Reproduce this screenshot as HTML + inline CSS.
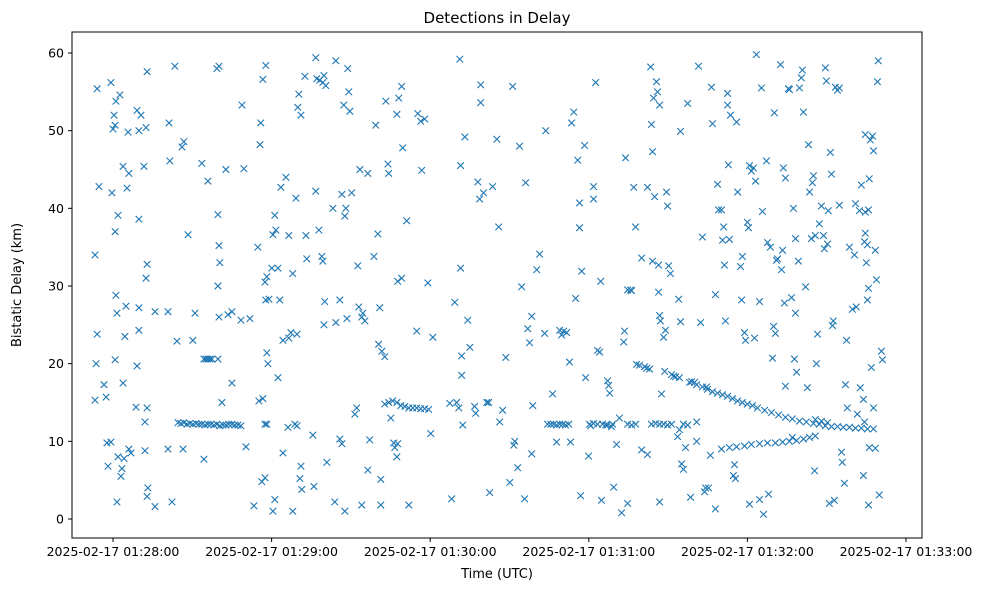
<!DOCTYPE html>
<html><head><meta charset="utf-8"><style>
html,body{margin:0;padding:0;background:#fff;}
svg text{font-family:"DejaVu Sans","Liberation Sans",sans-serif;fill:#000;}
</style></head><body>
<svg id="chart" width="988" height="590" xmlns="http://www.w3.org/2000/svg">
<rect x="0" y="0" width="988" height="590" fill="#fff"/>
<text x="497" y="23" font-size="15" text-anchor="middle">Detections in Delay</text>
<text x="497" y="578" font-size="13" text-anchor="middle">Time (UTC)</text>
<text x="21" y="285" font-size="13" text-anchor="middle" transform="rotate(-90 21 285)">Bistatic Delay (km)</text>
<g id="marks"></g>
<g id="axes"></g>
<rect x="72" y="32" width="850" height="506" fill="none" stroke="#000" stroke-width="1"/>
</svg>
<script>
// time in seconds relative to 01:28:00 UTC
const times = [-6.8,-6.0,-5.3,-6.4,-6.0,-6.8,-3.4,-2.6,-2.3,-1.9,-0.8,-0.8,0,0.4,0.8,1.1,2.6,-0.4,0.8,1.9,1.1,1.5,0.8,1.9,3.0,3.4,4.2,1.5,3.8,5.3,5.7,6.0,4.9,4.5,3.8,6.8,9.1,9.8,10.6,12.5,12.9,11.7,9.8,9.1,8.7,9.8,12.9,12.5,12.9,12.1,12.1,13.2,12.9,15.9,15.9,20.8,9.8,6.0,22.3,20.8,21.2,21.5,23.4,26.1,26.8,28.4,30.2,31.0,26.5,24.2,
24.6,25.7,26.8,28.0,29.1,30.2,31.4,32.5,33.6,34.8,35.9,37.0,38.2,39.3,40.4,41.6,42.7,43.8,45.0,46.1,47.3,48.4,
33.6,35.9,34.4,35.2,35.9,36.7,37.4,39.7,34.4,39.3,40.1,39.7,40.1,40.4,39.7,40.1,41.2,42.7,43.5,45.0,45.0,48.4,48.8,49.5,50.3,51.8,53.3,54.8,55.9,55.6,56.7,57.8,55.2,56.7,57.5,58.2,58.6,58.2,57.8,57.5,58.2,59.0,60.1,60.5,61.2,61.6,62.4,63.1,63.5,65.4,64.3,66.5,66.5,61.2,60.5,56.3,57.5,62.4,64.3,66.2,67.3,69.6,68.0,69.2,69.9,70.3,71.1,72.6,73.0,73.3,68.8,69.6,71.1,70.7,71.4,68.0,75.6,76.0,76.7,76.7,77.1,77.9,78.2,79.4,79.8,80.5,79.0,79.4,79.8,80.1,80.9,83.2,84.3,84.3,85.8,85.8,86.6,87.3,86.6,87.7,88.1,88.5,88.8,89.2,89.6,90.3,91.5,92.2,92.6,93.0,93.4,94.5,94.1,95.3,94.1,83.9,87.7,96.4,96.4,97.1,98.7,99.4,100.2,100.5,100.9,101.3,101.7,101.3,102.8,103.2,104.3,104.0,105.1,106.2,106.6,107.4,107.7,107.4,108.1,107.7,109.2,109.2,109.6,111.1,111.9,114.9,115.3,116.4,116.8,117.9,119.1,120.2,121.0,
102.8,104.3,105.8,107.4,108.9,110.4,111.9,113.4,114.9,116.4,117.9,119.4,127.4,130.8,141.4,
128.1,129.3,130.0,131.2,131.5,131.5,131.9,131.9,133.1,132.3,134.2,135.0,136.8,137.2,138.0,138.7,139.1,139.1,140.2,142.1,142.5,143.6,145.2,145.9,146.3,147.4,148.6,150.1,151.2,151.6,152.0,153.1,153.8,154.6,155.7,156.1,156.9,157.6,158.4,158.4,158.8,160.3,161.4,163.3,163.7,
164.4,165.6,166.7,167.8,169.0,170.1,171.2,172.4,
166.3,167.8,169.0,169.7,170.5,171.6,173.1,172.7,173.5,174.3,175.0,175.8,176.5,176.5,176.9,177.3,178.4,178.8,179.9,180.7,181.8,182.6,181.8,183.3,184.1,184.5,184.8,186.4,187.1,187.5,187.9,188.6,189.4,190.5,191.6,192.4,193.2,193.5,193.9,194.7,194.7,195.8,196.2,197.0,197.7,198.1,199.2,200.0,200.0,201.1,201.9,202.2,202.2,203.0,203.4,203.7,204.1,204.1,204.5,204.9,205.6,206.0,206.8,206.4,206.4,206.8,207.1,206.8,207.5,208.3,209.0,209.4,209.8,210.2,210.9,212.1,212.8,213.6,214.0,214.3,214.7,214.7,215.1,215.8,216.6,217.4,218.5,218.9,220.0,220.8,220.8,221.5,222.3,223.0,223.8,224.2,224.5,225.3,226.0,226.4,226.8,227.9,227.9,228.7,229.1,230.2,230.6,231.0,231.3,231.7,232.5,232.5,232.8,233.2,233.6,234.7,235.1,235.5,235.9,236.3,237.4,237.8,238.1,238.9,239.3,240.0,240.4,240.8,240.8,241.5,242.3,242.7,243.1,243.4,244.6,244.6,245.3,245.7,246.1,247.2,247.6,248.0,248.7,249.5,249.9,250.2,250.6,251.0,251.4,252.5,252.9,253.3,253.6,254.0,254.4,254.4,255.5,255.9,256.7,257.0,257.4,257.8,258.2,258.6,258.2,259.3,259.7,260.4,260.8,261.2,262.0,262.7,263.1,263.5,264.2,264.6,265.0,265.4,265.7,266.1,266.5,267.2,268.0,268.8,269.1,269.5,269.9,270.3,270.6,271.0,271.4,271.8,272.2,272.5,272.9,273.3,274.1,274.8,274.8,275.6,275.9,276.7,277.1,277.5,277.8,278.6,279.7,280.5,280.9,281.2,281.6,282.4,282.7,283.1,283.9,284.3,284.6,285.0,285.4,286.1,286.5,286.9,287.3,287.7,288.4,288.8,289.2,289.5,289.9,290.7,291.1,285.8,286.1,288.4,285.8,284.6,285.8,287.7,284.6,285.4,283.9,284.3,
180.3,181.8,183.3,185.2,187.1,189.0,194.7,196.2,197.7,203.7,205.3,206.8,208.3,209.8,211.3,215.8,217.4,
208.7,211.3,214.3,218.1,220.8,223.0,224.9,226.8,228.7,230.6,232.5,234.4,236.3,238.1,240.0,241.9,243.8,246.5,249.1,251.8,254.4,257.0,259.7,262.3,265.0,267.2,269.5,271.8,274.1,276.3,278.6,280.9,283.1,285.4,287.7,
230.2,233.2,235.9,238.9,241.5,244.6,247.6,250.6,253.3,255.9,258.6,261.2,263.5,265.7,
265.7,268.0,270.3];
// bistatic delay in km
const delays = [34,55.4,42.8,20,23.8,15.3,17.3,15.7,9.8,6.8,9.9,56.2,50.2,52,50.7,53.8,54.6,42,37,39.1,28.8,26.5,20.5,8,5.5,6.5,7.8,2.2,45.4,42.6,49.8,44.5,27.4,23.5,17.5,8.5,52.6,50,52,50.4,57.6,45.4,38.6,19.7,14.4,24.3,32.8,31,14.3,12.5,8.8,4,2.9,1.6,26.7,26.7,27.2,9,2.2,9,51,46.1,58.3,47.9,48.6,36.6,23,26.5,9,22.9,
12.4,12.3,12.4,12.2,12.3,12.2,12.3,12.2,12.2,12.1,12.2,12.2,12.1,12.2,12.0,12.1,12.1,12.2,12.2,12.1,12.1,12.0,
45.8,43.5,20.6,20.6,20.6,20.6,20.6,20.6,7.7,58,58.3,39.2,35.2,33,30,26,15,45,26.3,26.7,17.5,25.6,53.3,45.1,9.3,25.8,1.7,35,51,48.2,56.6,58.4,15.2,15.5,12.2,12.2,20,21.4,28.2,30.5,31.2,28.3,32.3,36.6,39.1,37.2,32.3,28.2,42.7,44,23,23.3,36.5,2.5,1,4.8,5.3,18.2,8.5,11.8,24,23.8,31.6,41.3,53,54.7,52,57,36.5,33.5,12.2,12,6.8,5.2,3.8,1,10.8,4.2,42.2,59.4,56.7,37.2,56.5,56.2,57.1,55.8,33.8,33.2,25,28,7.3,40,59,25.3,28.2,10.3,9.7,53.3,41.8,39,40,25.8,58,55,52.5,42,13.5,14.3,32.6,27.3,45,26.5,26,25.5,1.8,2.2,1,44.5,6.3,10.2,33.8,50.7,36.7,22.5,27.2,5.1,21.6,1.8,20.9,53.8,44.5,45.7,13,9.8,9.2,8,9.7,52.1,54.2,30.6,31,55.7,47.8,38.4,1.8,24.2,52.2,51.2,44.9,51.5,30.4,11,23.4,
14.8,15,15.2,15.0,14.6,14.5,14.3,14.3,14.3,14.2,14.2,14.1,14.9,14.3,15,
2.6,27.9,15,59.2,45.5,32.3,18.5,21,49.2,12.1,25.6,22.1,14.5,13.6,43.4,41.2,53.6,55.9,42,15,3.4,42.8,48.9,37.6,12.5,14,20.8,4.7,55.7,9.5,10,6.6,48,29.9,2.6,43.3,24.5,22.7,8.4,26.1,14.6,32.1,34.1,23.9,50,
12.2,12.2,12.2,12.1,12.2,12.2,12.1,12.2,
16.1,9.9,24.3,23.7,24.2,24,9.9,20.2,51,52.4,28.4,46.2,40.7,37.5,3,31.9,48.1,18.2,8.1,12,41.2,56.2,42.8,21.7,21.5,30.6,2.4,12.1,17.8,17.2,16.2,11.9,4.1,9.6,13,0.8,22.8,24.2,46.5,2,29.5,29.5,29.4,42.7,37.6,19.9,19.8,8.9,33.6,19.6,19.4,8.3,42.7,19.3,58.2,50.8,47.3,33.2,54.2,41.5,56.3,55,53.3,32.7,29.2,26.2,25.5,2.2,16.1,23.4,24.3,42.1,40.3,32.6,31.6,18.4,18.3,10.6,28.3,11.5,25.4,49.9,7.1,6.4,9.2,53.5,2.8,17.7,17.6,10,12.5,58.3,25.3,36.3,3.5,4,17,4,8.2,55.6,50.9,1.3,28.9,43.1,39.8,39.8,35.9,37.6,32.7,25.5,54.8,53.3,45.6,36,52,5.6,7,5.2,51.1,42.1,32.5,28.2,33.8,24,23,38.2,37.5,1.9,45.5,44.8,45.2,23.3,43.5,59.8,2.5,28,55.5,39.6,0.6,46.1,35.6,3.2,35,20.7,24.8,52.3,23.9,33.3,33.5,58.5,32.1,34.6,45.2,27.8,43.9,17.1,55.4,55.3,28.5,10.5,40,20.6,36.1,18.9,26.5,33.2,55.5,56.8,57.8,52.4,29.9,16.9,48.2,42.1,36.1,43.3,44.2,6.2,36.5,20,23.8,38,40.3,36.5,34.8,58.1,56.4,35.4,39.7,2,47.2,44.4,24.9,25.5,2.4,55.6,55.2,40.4,55.5,8.6,7.3,4.6,17.3,23,14.3,35,27,34,40.6,27.3,13.5,39.7,16.9,43,5.6,35.7,49.5,33,35.3,43.8,48.8,19.5,49.3,47.4,34.6,30.8,56.3,59,3.1,21.6,20.5,29.7,9.2,9.1,1.8,39.5,39.8,14.3,36.8,28.2,15.4,12.5,
12.2,12.3,12.2,12.2,12.1,12.2,12.2,12.1,12.2,12.2,12.3,12.2,12.2,12.1,12.2,12.2,12.1,
19,18.6,18.2,17.6,17.3,17,16.7,16.4,16.2,16.0,15.8,15.5,15.2,15,14.8,14.6,14.3,14.0,13.7,13.4,13.1,12.9,12.6,12.5,12.3,12.2,12.0,11.9,11.9,11.8,11.8,11.7,11.7,11.6,11.6,
9.0,9.2,9.3,9.4,9.6,9.7,9.8,9.8,9.9,10,10.1,10.3,10.5,10.7,
12.8,12.6,12.4];
const xTickSecs = [0,60,120,180,240,300];
const xTickLabels = ["2025-02-17 01:28:00","2025-02-17 01:29:00","2025-02-17 01:30:00","2025-02-17 01:31:00","2025-02-17 01:32:00","2025-02-17 01:33:00"];
const yTicks = [0,10,20,30,40,50,60];

const NS="http://www.w3.org/2000/svg";
function xS(s){return 113 + s*(793/300);}
function yS(v){return 519 - v*(466/60);}
const marks=document.getElementById('marks');
const axes=document.getElementById('axes');
const n=Math.min(times.length,delays.length);
for(let i=0;i<n;i++){
  const cx=xS(times[i]), cy=yS(delays[i]), r=3.3;
  const p=document.createElementNS(NS,'path');
  p.setAttribute('d',`M${cx-r},${cy-r}L${cx+r},${cy+r}M${cx-r},${cy+r}L${cx+r},${cy-r}`);
  p.setAttribute('stroke','#1f77b4');p.setAttribute('stroke-width','1.1');p.setAttribute('fill','none');
  
  
  marks.appendChild(p);
}
xTickSecs.forEach((s,i)=>{
  const x=xS(s);
  const l=document.createElementNS(NS,'line');
  l.setAttribute('x1',x);l.setAttribute('x2',x);l.setAttribute('y1',538);l.setAttribute('y2',542);l.setAttribute('stroke','#000');
  
  
  axes.appendChild(l);
  const t=document.createElementNS(NS,'text');
  t.setAttribute('x',x);t.setAttribute('y',556);t.setAttribute('font-size','12.5');t.setAttribute('text-anchor','middle');
  t.textContent=xTickLabels[i];
  
  
  axes.appendChild(t);
});
yTicks.forEach(v=>{
  const y=yS(v);
  const l=document.createElementNS(NS,'line');
  l.setAttribute('x1',68);l.setAttribute('x2',72);l.setAttribute('y1',y);l.setAttribute('y2',y);l.setAttribute('stroke','#000');
  
  
  axes.appendChild(l);
  const t=document.createElementNS(NS,'text');
  t.setAttribute('x',64);t.setAttribute('y',y+4.5);t.setAttribute('font-size','12.5');t.setAttribute('text-anchor','end');
  t.textContent=String(v);
  
  
  axes.appendChild(t);
});
</script>
</body></html>
